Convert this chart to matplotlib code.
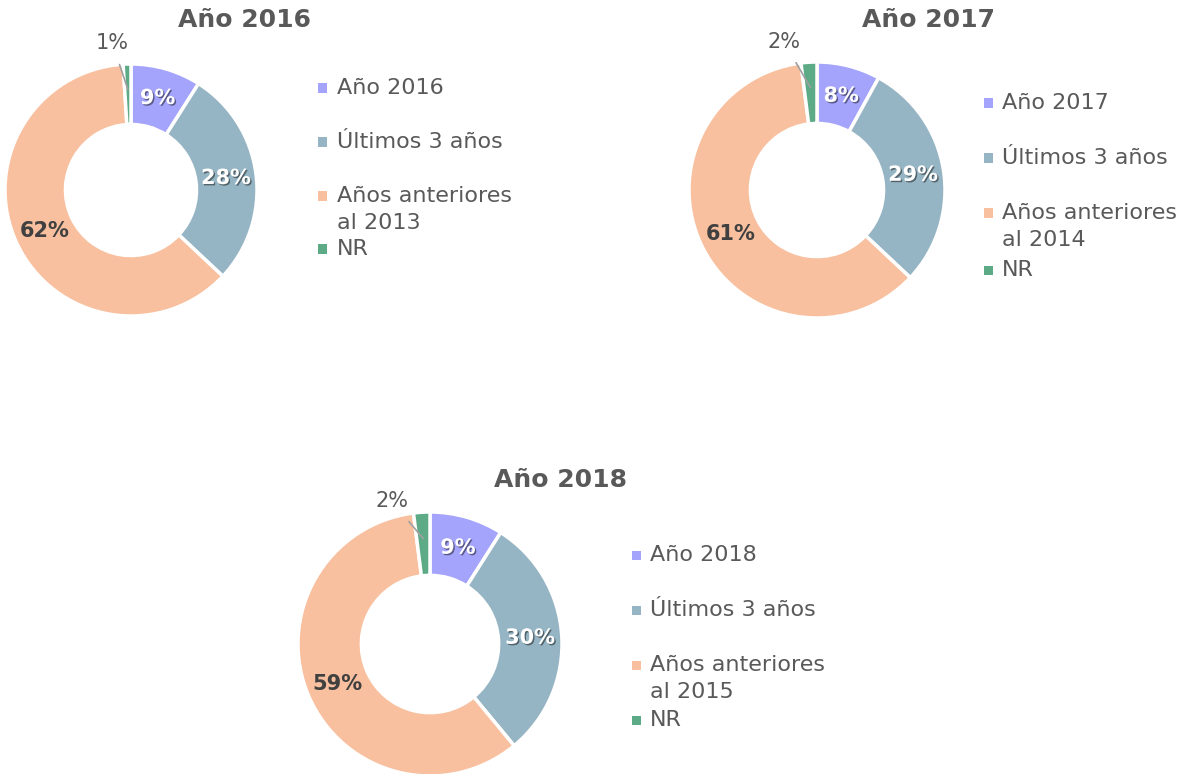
import matplotlib.pyplot as plt
import matplotlib.patheffects as pe
from matplotlib.patches import Rectangle
import numpy as np

# Data
years = ["2016", "2017", "2018"]
anio_actual = [9, 8, 9]
ultimos_3 = [28, 29, 30]
anteriores = [62, 61, 59]
no_responde = [1, 2, 2]
ref_years = ["2013", "2014", "2015"]

colors = ["#a4a4fc", "#96b5c4", "#f8c09f", "#5daa86"]
text_gray = "#595959"

W, H = 1179, 774
fig = plt.figure(figsize=(W / 100, H / 100), dpi=100)
plt.rcParams["font.family"] = ["DejaVu Sans"]

# Layout in pixels: donut centre / radius, title, legend, NR-label offset
layout = [
    dict(c=(131, 190), r=126, title=(245, 20), mk=322, tx=337,
         rows=[88, 142, 196, 249], nr_lab=(-0.15, 1.17)),
    dict(c=(817, 190), r=128, title=(928, 20), mk=988, tx=1002,
         rows=[103, 158, 213, 270], nr_lab=(-0.26, 1.16)),
    dict(c=(430, 644), r=132, title=(560, 480), mk=636, tx=650,
         rows=[555, 610, 665, 720], nr_lab=(-0.29, 1.08)),
]

shadow = [pe.SimplePatchShadow(offset=(1, -1), shadow_rgbFace="black", alpha=0.45),
          pe.Normal()]

for i, year in enumerate(years):
    L = layout[i]
    cx, cy = L["c"]
    r = L["r"]
    values = [anio_actual[i], ultimos_3[i], anteriores[i], no_responde[i]]
    labels = [f"Año {year}", "Últimos 3 años", f"Años anteriores\nal {ref_years[i]}", "NR"]

    ax = fig.add_axes([(cx - r) / W, 1 - (cy + r) / H, 2 * r / W, 2 * r / H])
    ax.pie(values, radius=1, startangle=90, counterclock=False, colors=colors,
           wedgeprops=dict(width=0.48, edgecolor="white", linewidth=2.5))
    ax.set_xlim(-1, 1)
    ax.set_ylim(-1, 1)
    ax.axis("off")

    # percentage labels
    total = sum(values)
    start = 90.0
    for j, v in enumerate(values):
        sweep = 360.0 * v / total
        mid = np.deg2rad(start - sweep / 2)
        start -= sweep
        txt = f"{v}%"
        if j < 2:
            ax.text(0.76 * np.cos(mid), 0.76 * np.sin(mid), txt, ha="center", va="center",
                    fontsize=15, fontweight="bold", color="white", path_effects=shadow)
        elif j == 2:
            ax.text(0.76 * np.cos(mid), 0.76 * np.sin(mid), txt, ha="center", va="center",
                    fontsize=15, fontweight="bold", color="#404040")
        else:
            ax.annotate(txt, xy=(0.8 * np.cos(mid), 0.8 * np.sin(mid)), xytext=L["nr_lab"],
                        ha="center", va="center", fontsize=15, color=text_gray,
                        annotation_clip=False,
                        arrowprops=dict(arrowstyle="-", color="#a0a0a0", lw=1.2,
                                        shrinkA=7, shrinkB=0))

    # title
    tx, ty = L["title"]
    fig.text(tx / W, 1 - ty / H, f"Año {year}", ha="center", va="center",
             fontsize=18, fontweight="bold", color=text_gray)

    # legend
    for j, lab in enumerate(labels):
        y = L["rows"][j]
        s = 9
        fig.add_artist(Rectangle(((L["mk"] - s / 2) / W, 1 - (y + s / 2) / H), s / W, s / H,
                                 transform=fig.transFigure, facecolor=colors[j], edgecolor="none"))
        fig.text(L["tx"] / W, 1 - (y - 10) / H, lab, ha="left", va="top",
                 fontsize=16, color=text_gray, linespacing=1.45)

fig.savefig("out.png", dpi=100)
